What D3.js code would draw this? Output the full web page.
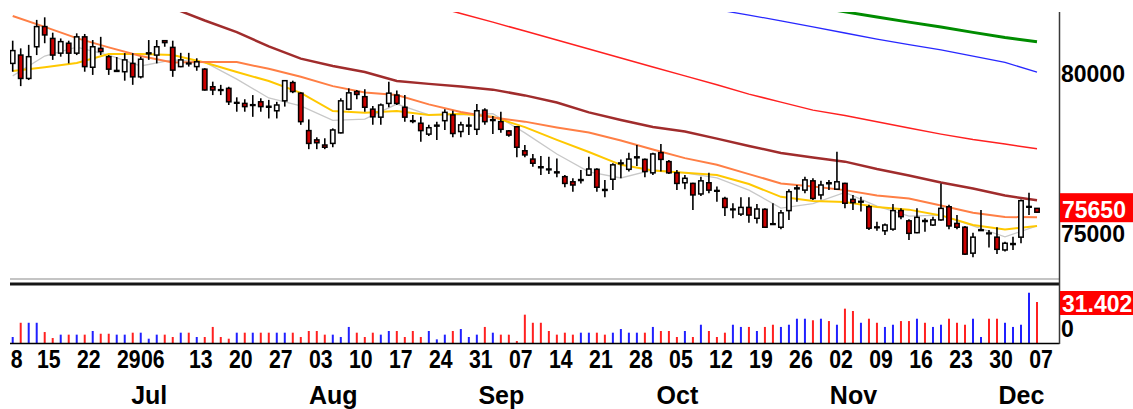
<!DOCTYPE html>
<html>
<head>
<meta charset="utf-8">
<script src="https://cdn.jsdelivr.net/npm/d3@7"></script>
<style>
  body { margin: 0; background: #fff; }
  svg { display: block; }
  text { font-family: "Liberation Sans", Arial, sans-serif; font-weight: bold; }
</style>
</head>
<body>
<div id="my_chart"></div>
<script>
// daily candles, Jun 8 .. Dec 7 (one entry per trading day)
var opens = [80300,80560,79830,80820,81450,81080,80620,80930,80620,81130,80180,80770,80510,80050,80040,80300,79880,80600,80560,81010,
  80800,80200,80310,80200,80120,79570,79480,79520,79060,79050,78990,79100,78960,78820,79130,79700,79370,78200,77910,77750,
  77800,78130,78870,79420,79260,78870,78620,79050,79310,78930,78510,78430,78090,78340,78510,78690,78170,78340,78240,78840,
  78520,78480,78190,78320,77570,77310,77070,77000,76910,76760,76600,76640,76810,76990,76360,76680,77170,76990,77350,77300,
  76880,77510,77230,76880,76570,76550,76220,76570,76330,76080,75730,75590,75800,75460,75740,75290,75180,75700,76380,76340,
  76630,76190,76570,76370,76550,76050,75970,75820,75190,75070,75120,75700,75380,75010,75390,75250,75410,75820,75300,75180,
  74370,75080,75000,74870,74470,74640,74870,75810,75770];
var highs = [81010,80770,80880,81660,81740,81260,81080,81010,81240,81220,81030,81130,80560,80500,80620,80620,80510,81030,81030,81020,
  81010,80630,80630,80460,80150,79730,79630,79570,79240,79180,79310,79210,79160,79100,79770,79760,79400,78550,77990,77960,
  78270,79210,79520,79470,79490,78970,79050,79730,79450,79310,78690,78630,78380,78480,78870,78820,78480,78620,79030,78900,
  78660,78790,78220,78340,77750,77470,77410,77380,77330,76810,76710,76970,77380,77020,76660,77180,77300,77510,77750,77330,
  77510,77780,77280,76970,76810,76570,76760,76880,76450,76130,75930,76120,76120,75910,75770,75930,75720,76370,76500,76760,
  76710,76630,76660,77540,76570,76190,76130,75880,75350,75300,75910,75770,75430,75770,75460,75510,76550,75880,75560,75220,
  75010,75720,75090,75180,74730,74880,76050,76260,75780];
var lows = [80040,79590,79780,80560,80930,80410,80510,80300,80560,80040,79940,80560,79940,80040,79760,79630,79830,80410,80300,80820,
  79880,80180,80200,80070,79450,79310,79310,79000,78790,78790,78630,78790,78580,78580,78950,79370,78380,77620,77620,77620,
  77680,78110,78840,79180,78790,78380,78380,78930,79000,78480,78430,77850,78030,77910,78220,77990,77990,78060,78060,78380,
  78090,78130,78010,77370,77370,77070,76810,76840,76740,76430,76290,76550,76780,76290,76120,76340,76710,76920,77090,76740,
  76810,76920,76840,76340,76370,75720,76160,76240,75980,75530,75460,75530,75320,75300,75170,75250,75120,75410,75980,76240,
  76030,76050,76340,76340,75770,75720,75670,75090,75070,74940,75070,75430,74780,74990,75040,75220,75380,75120,75120,74310,
  74240,75070,74550,74340,74420,74470,74680,75560,75630];
var closes = [80700,79830,80510,81450,81190,80560,80980,80620,81130,80200,80820,80670,80120,80080,80410,79880,80430,80630,80820,80950,
  80090,80410,80290,80350,79470,79470,79460,79100,79080,78950,79010,78950,78930,79000,79760,79420,78480,77800,77820,77680,
  78220,79130,79380,79330,78930,78630,79000,79370,79050,78620,78490,78200,78290,78370,78770,78110,78380,78370,78820,78480,
  78540,78240,78060,77680,77440,77180,77040,76980,76880,76550,76500,76670,77000,76430,76330,77130,77190,77310,77380,76920,
  77470,77300,76880,76550,76710,76190,76630,76340,76310,75800,75750,75800,75560,75750,75180,75270,75630,76290,76410,76660,
  76080,76500,76540,76600,75930,75950,75990,75150,75170,75250,75700,75510,74990,75490,75360,75410,75770,75220,75180,74340,
  74870,75100,74980,74490,74680,74670,76010,75830,75650];
var volumes = [4.6,15.5,15.5,15.5,8.4,3.8,6.4,6.4,6.4,6.4,9.2,7.1,7.1,6.4,6.4,7.9,7.9,3.3,6.4,6.4,
  4.6,7.9,7.9,4.6,4.6,12.3,4.6,3.3,7.9,7.9,7.9,7.9,7.9,7.9,7.9,7.9,4.6,9.2,9.2,6.4,
  6.4,4.6,12.3,7.9,4.6,7.9,6.4,9.2,9.2,4.6,9.2,4.6,9.2,2.8,6.4,9.2,10.7,4.6,6.4,12.3,
  7.9,6.4,6.4,1.5,21.7,15.5,15.5,9.2,6.4,7.9,6.4,7.9,7.9,7.9,6.4,7.9,10.7,7.9,7.9,7.9,
  12.3,9.2,9.2,4.6,9.2,4.6,14.0,9.2,4.6,7.9,14.0,12.3,12.3,9.2,12.3,14.0,12.3,14.0,18.6,18.6,
  17.4,18.6,16.8,14.0,26.3,24.5,15.5,18.6,15.5,12.3,14.0,16.8,16.8,18.6,15.5,12.3,14.0,18.6,15.5,14.0,
  18.6,4.6,18.6,18.6,15.5,12.3,14.0,38.5,31.402];

// moving averages every 4 trading days (null = above the panel)
var maDays = [0,4,8,12,16,20,24,28,32,36,40,44,48,52,56,60,64,68,72,76,80,84,88,92,96,100,104,108,112,116,120,124,128];
var ma5 = [79910,80530,80810,80560,80220,80410,80340,79810,79220,78970,78520,78560,79030,78690,78690,78730,78130,77470,76910,76720,
  76970,76880,76720,76340,75780,75920,76270,75840,75530,75560,75220,74880,75220];
var ma10 = [80060,80180,80310,80590,80590,80560,80330,80030,79750,79380,78810,78760,78810,78690,78730,78630,78310,77910,77530,77130,
  76950,76880,76810,76530,76130,76000,75970,75810,75730,75550,75250,75110,75220];
var ma20 = [81780,81440,81090,80800,80530,80330,80340,80340,80130,79880,79590,79390,79310,79020,78780,78610,78480,78300,78140,77890,
  77610,77340,77130,76840,76550,76450,76340,76170,76080,75860,75630,75500,75490];
var ma60 = [null,null,null,null,null,82030,81640,81280,80830,80450,80220,80030,79750,79660,79580,79480,79300,79080,78770,78530,
  78310,78170,77950,77720,77500,77360,77230,77000,76800,76580,76390,76170,76020];
var ma120 = [null,null,null,null,null,null,null,null,null,null,null,null,null,82130,81860,81590,81310,81030,80750,80470,
  80190,79910,79630,79340,79090,78840,78670,78480,78280,78090,77920,77780,77630];
var ma200 = [null,null,null,null,null,null,null,null,null,null,null,null,null,null,null,null,null,null,null,null,
  null,null,81980,81810,81630,81440,81250,81060,80890,80720,80530,80330,80030];
var ma240 = [null,null,null,null,null,null,null,null,null,null,null,null,null,null,null,null,null,null,null,null,
  null,null,null,null,null,82090,81910,81750,81590,81440,81270,81110,80980];

var maColors = ["#c8c8c8", "#ffc800", "#ff7f45", "#a02c2c", "#ff2020", "#2828ff", "#008c00"];
var maWidths = [1.3, 2, 2, 2.5, 1.5, 1.3, 3];

// axis labels
var tickDays = [0,4,9,14,17,23,28,33,38,43,48,53,58,63,68,73,78,83,88,93,98,103,108,113,118,123,128];
var tickLabels = ["8","15","22","29","06","13","20","27","03","10","17","24","31","07","14","21","28","05","12","19","26","02","09","16","23","30","07"];
var monthDays = [17, 40, 61, 83, 105, 126];
var monthLabels = ["Jul", "Aug", "Sep", "Oct", "Nov", "Dec"];
var priceTicks = [75000, 80000];

var svg = d3.select("#my_chart")
    .append("svg")
    .attr("width", 1133)
    .attr("height", 409);

var x = d3.scaleLinear().domain([0, closes.length - 1]).range([12.7, 1037]);
var y = d3.scaleLinear().domain([75000, 80000]).range([233, 73]);
var yv = d3.scaleLinear().domain([0, 31.402]).range([343, 302]);

svg.append("clipPath").attr("id", "clipMain")
    .append("rect").attr("x", 10).attr("y", 12).attr("width", 1049).attr("height", 265);

var main = svg.append("g").attr("clip-path", "url(#clipMain)");

// moving average lines
var mas = [ma5, ma10, ma20, ma60, ma120, ma200, ma240];
var line = d3.line()
    .defined(function (d) { return d != null; })
    .x(function (d, i) { return x(maDays[i]); })
    .y(function (d) { return y(d); });
mas.forEach(function (m, k) {
  main.append("path")
      .datum(m)
      .attr("fill", "none")
      .attr("stroke", maColors[k])
      .attr("stroke-width", maWidths[k])
      .attr("d", line);
});

// candles
var idx = d3.range(closes.length);
var candle = main.selectAll(".candle").data(idx).enter().append("g");
candle.append("line")
    .attr("x1", function (i) { return x(i); })
    .attr("x2", function (i) { return x(i); })
    .attr("y1", function (i) { return y(highs[i]); })
    .attr("y2", function (i) { return y(lows[i]); })
    .attr("stroke", "#000")
    .attr("stroke-width", 1.6);
candle.append("rect")
    .attr("x", function (i) { return x(i) - 2.2; })
    .attr("width", 4.4)
    .attr("y", function (i) { return Math.min(y(opens[i]), y(closes[i])); })
    .attr("height", function (i) { return Math.max(0.8, Math.abs(y(opens[i]) - y(closes[i]))); })
    .attr("fill", function (i) { return closes[i] >= opens[i] ? "#fff" : "#cc0000"; })
    .attr("stroke", "#000")
    .attr("stroke-width", 1.5);

// volume bars
svg.selectAll(".vol").data(idx).enter().append("line")
    .attr("x1", function (i) { return x(i); })
    .attr("x2", function (i) { return x(i); })
    .attr("y1", yv(0))
    .attr("y2", function (i) { return yv(volumes[i]); })
    .attr("stroke", function (i) { return closes[i] >= opens[i] ? "#2020ff" : "#ff2020"; })
    .attr("stroke-width", 2);

// panel frame: separator bar, volume baseline, right edge
svg.append("line").attr("x1", 10).attr("x2", 1059).attr("y1", 279).attr("y2", 279)
    .attr("stroke", "#c4c4c4").attr("stroke-width", 2);
svg.append("line").attr("x1", 10).attr("x2", 1059).attr("y1", 284).attr("y2", 284)
    .attr("stroke", "#161616").attr("stroke-width", 3);
svg.append("line").attr("x1", 10).attr("x2", 1059.5).attr("y1", 343.5).attr("y2", 343.5)
    .attr("stroke", "#000").attr("stroke-width", 1.5);
svg.append("line").attr("x1", 1059.5).attr("x2", 1059.5).attr("y1", 12).attr("y2", 344)
    .attr("stroke", "#3a3a3a").attr("stroke-width", 1.5);

// bottom axis: week labels
var xAxis = svg.append("g")
    .attr("transform", "translate(3.5,368)")
    .call(d3.axisBottom(x).tickValues(tickDays).tickSize(0)
        .tickFormat(function (d, i) { return tickLabels[i]; }));
xAxis.select(".domain").remove();
xAxis.selectAll("text")
    .attr("y", 0).attr("dy", 0)
    .attr("fill", "#000")
    .style("font-size", "25px")
    .attr("transform", "scale(0.85,1)");

// month labels
var mAxis = svg.append("g")
    .attr("transform", "translate(0,404)")
    .call(d3.axisBottom(x).tickValues(monthDays).tickSize(0)
        .tickFormat(function (d, i) { return monthLabels[i]; }));
mAxis.select(".domain").remove();
mAxis.selectAll("text")
    .attr("y", 0).attr("dy", 0)
    .attr("fill", "#000")
    .style("font-size", "25px");

// right price axis
var yAxis = svg.append("g")
    .attr("transform", "translate(1059,0)")
    .call(d3.axisRight(y).tickValues(priceTicks).tickSize(0).tickPadding(2)
        .tickFormat(d3.format("d")));
yAxis.select(".domain").remove();
yAxis.selectAll("text")
    .attr("dy", "0.36em")
    .attr("fill", "#000")
    .style("font-size", "23px");

// volume zero label
svg.append("text")
    .attr("x", 1061).attr("y", yv(0) - 6)
    .style("font-size", "23px")
    .text("0");

// last value boxes
var lastClose = closes[closes.length - 1];
svg.append("rect")
    .attr("x", 1060).attr("y", y(lastClose) - 19)
    .attr("width", 80).attr("height", 29)
    .attr("fill", "#ff0000");
svg.append("text")
    .attr("x", 1062).attr("y", y(lastClose) + 6)
    .attr("fill", "#fff")
    .style("font-size", "23px")
    .text(lastClose);

var lastVol = volumes[volumes.length - 1];
svg.append("rect")
    .attr("x", 1060).attr("y", yv(lastVol) - 11)
    .attr("width", 80).attr("height", 24)
    .attr("fill", "#ff0000");
svg.append("text")
    .attr("x", 1062).attr("y", yv(lastVol) + 10)
    .attr("fill", "#fff")
    .style("font-size", "23px")
    .text(d3.format(".3f")(lastVol));
</script>
</body>
</html>
